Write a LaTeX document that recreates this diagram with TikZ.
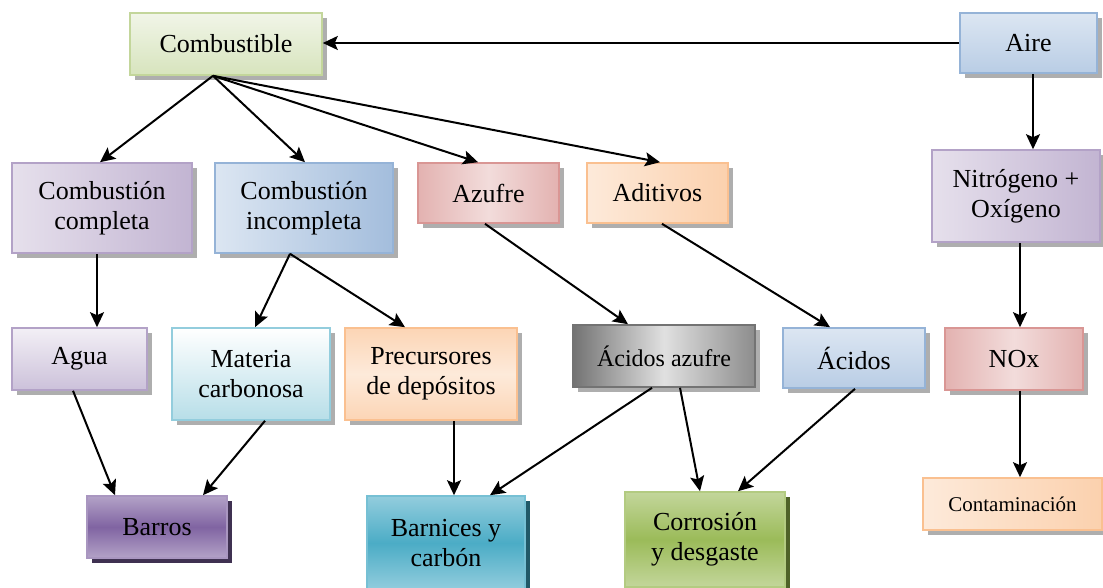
\documentclass[tikz,border=0pt]{standalone}
\usepackage{fontspec}
\setmainfont{Liberation Serif}
\usetikzlibrary{arrows.meta,calc,shadows}

% Farben
\definecolor{verdeA}{HTML}{EBF1DE}
\definecolor{verdeB}{HTML}{D7E4BD}
\definecolor{verdeC}{HTML}{C3D69B}
\definecolor{verdeD}{HTML}{9BBB59}
\definecolor{verdeE}{HTML}{4F6228}
\definecolor{azulA}{HTML}{DCE6F2}
\definecolor{azulB}{HTML}{B9CDE5}
\definecolor{azulC}{HTML}{95B3D7}
\definecolor{rojoA}{HTML}{F2DCDB}
\definecolor{rojoC}{HTML}{D99694}
\definecolor{moradoA}{HTML}{E6E0EC}
\definecolor{moradoB}{HTML}{CCC1DA}
\definecolor{moradoC}{HTML}{B3A2C7}
\definecolor{moradoD}{HTML}{8064A2}
\definecolor{moradoE}{HTML}{3F3151}
\definecolor{aquaA}{HTML}{DBEEF4}
\definecolor{aquaB}{HTML}{B7DEE8}
\definecolor{aquaC}{HTML}{93CDDD}
\definecolor{aquaD}{HTML}{4BACC6}
\definecolor{aquaE}{HTML}{215968}
\definecolor{naranjaA}{HTML}{FDEADA}
\definecolor{naranjaB}{HTML}{FCD5B5}
\definecolor{naranjaC}{HTML}{FAC090}

\begin{document}
\begin{tikzpicture}[
    x=0.5pt, y=-0.5pt,
    >={Stealth[length=7.5pt,width=7pt,inset=1.5pt]},
    every node/.style={font=\fontsize{13}{15}\selectfont},
    caja/.style={draw, line width=0.8pt, inner sep=0pt, align=center,
        drop shadow={shadow xshift=2.5pt, shadow yshift=-2.5pt,
            fill=black!45, opacity=0.7}},
    cajaoscura/.style={caja,
        drop shadow={shadow xshift=2.5pt, shadow yshift=-2.5pt,
            fill=#1, opacity=1}},
    verde/.style={caja, draw=verdeC, top color=verdeA!70!white, bottom color=verdeB},
    azul/.style={caja, draw=azulC, top color=azulA, bottom color=azulB},
    azulfuerte/.style={caja, draw=azulC, left color=azulA, right color=azulC!80!azulA},
    morado/.style={caja, draw=moradoC, left color=moradoA, right color=moradoC!70!moradoA},
    moradoV/.style={caja, draw=moradoC, top color=moradoA!50!white, bottom color=moradoB},
    rojo/.style={caja, draw=rojoC, left color=rojoC!60!rojoA, right color=rojoC!60!rojoA, middle color=rojoA},
    naranja/.style={caja, draw=naranjaC, left color=naranjaA, right color=naranjaC!60!naranjaA},
    naranjaV/.style={caja, draw=naranjaC, top color=naranjaB, bottom color=naranjaB, middle color=naranjaA},
    aquaV/.style={caja, draw=aquaC, top color=white, bottom color=aquaB},
    gris/.style={caja, draw=black!55, left color=black!55, right color=black!45, middle color=black!12},
    moradoO/.style={cajaoscura=moradoE, draw=moradoC!80!moradoD, top color=moradoC, bottom color=moradoC, middle color=moradoD},
    aquaO/.style={cajaoscura=aquaE, draw=aquaC!60!aquaD, top color=aquaC, bottom color=aquaC, middle color=aquaD},
    verdeO/.style={cajaoscura=verdeE, draw=verdeC!60!verdeD, top color=verdeC, bottom color=verdeC, middle color=verdeD},
    flecha/.style={line width=1pt, ->}
]

\useasboundingbox (0,0) rectangle (1103,588);

% ============================================================
% Cajas
% ============================================================

\node[verde, minimum width=96pt, minimum height=31pt] (comb) at (226,44) {Combustible};
\node[azul, minimum width=68.5pt, minimum height=30pt] (aire) at (1028.5,43) {Aire};

\node[morado, minimum width=90pt, minimum height=45pt] (compl) at (102,208) {Combusti\'on\\completa};
\node[azulfuerte, minimum width=89pt, minimum height=45pt] (incompl) at (304,208) {Combusti\'on\\incompleta};
\node[rojo, minimum width=70.5pt, minimum height=30pt] (azufre) at (488.5,193) {Azufre};
\node[naranja, minimum width=70.5pt, minimum height=30pt] (aditivos) at (657.5,193) {Aditivos};
\node[morado, minimum width=84pt, minimum height=46pt] (nitro) at (1016,196) {Nitr\'ogeno +\\Ox\'igeno};

\node[moradoV, minimum width=67.5pt, minimum height=31pt] (agua) at (79.5,359) {Agua};
\node[aquaV, minimum width=79pt, minimum height=46pt] (materia) at (251,374) {Materia\\carbonosa};
\node[naranjaV, minimum width=86pt, minimum height=46pt] (precur) at (431,374) {Precursores\\de dep\'ositos};
\node[gris, minimum width=91pt, minimum height=31pt, font=\fontsize{12}{14}\selectfont] (acaz) at (664,356) {\'Acidos azufre};
\node[azul, minimum width=71pt, minimum height=30pt] (acidos) at (854,358) {\'Acidos};
\node[rojo, minimum width=69pt, minimum height=31pt] (nox) at (1014,359) {NOx};

\node[moradoO, minimum width=70pt, minimum height=31pt] (barros) at (157,527) {Barros};
\node[aquaO, minimum width=79pt, minimum height=47pt] (barnices) at (446,543) {Barnices y\\carb\'on};
\node[verdeO, minimum width=80pt, minimum height=47.5pt] (corro) at (705,539.5) {Corrosi\'on\\y desgaste};
\node[naranja, minimum width=89.5pt, minimum height=26pt, font=\fontsize{10.5}{12}\selectfont] (conta) at (1012.5,504) {Contaminaci\'on};

% ============================================================
% Flechas
% ============================================================

\draw[flecha] (aire.west) -- (aire.west -| comb.east);

\draw[flecha] ($(comb.south)+(-13,0)$) -- ($(compl.north)+(-2,0)$);
\draw[flecha] ($(comb.south)+(-13,0)$) -- ($(incompl.north)+(1,0)$);
\draw[flecha] ($(comb.south)+(-13,0)$) -- ($(azufre.north)+(-10.5,0)$);
\draw[flecha] ($(comb.south)+(-13,0)$) -- ($(aditivos.north)+(2.5,0)$);

\draw[flecha] ($(aire.south)+(4.5,0)$) -- ($(nitro.north)+(17,0)$);
\draw[flecha] ($(nitro.south)+(4,0)$) -- ($(nox.north)+(6,0)$);
\draw[flecha] ($(nox.south)+(6,0)$) -- ($(conta.north)+(7.5,0)$);

\draw[flecha] ($(compl.south)+(-5,0)$) -- ($(agua.north)+(17.5,0)$);
\draw[flecha] ($(incompl.south)+(-14,0)$) -- ($(materia.north)+(4,0)$);
\draw[flecha] ($(incompl.south)+(-14,0)$) -- ($(precur.north)+(-26,0)$);
\draw[flecha] ($(azufre.south)+(-3.5,0)$) -- ($(acaz.north)+(-36,0)$);
\draw[flecha] ($(aditivos.south)+(4.5,0)$) -- ($(acidos.north)+(-24,0)$);

\draw[flecha] ($(agua.south)+(-6.5,0)$) -- ($(barros.north)+(-42,0)$);
\draw[flecha] ($(materia.south)+(14,0)$) -- ($(barros.north)+(46,0)$);
\draw[flecha] ($(precur.south)+(23,0)$) -- ($(barnices.north)+(8,0)$);
\draw[flecha] ($(acaz.south)+(-12,0)$) -- ($(barnices.north)+(44,0)$);
\draw[flecha] ($(acaz.south)+(16,0)$) -- ($(corro.north)+(-5,0)$);
\draw[flecha] ($(acidos.south)+(1,0)$) -- ($(corro.north)+(33,0)$);

\end{tikzpicture}
\end{document}
